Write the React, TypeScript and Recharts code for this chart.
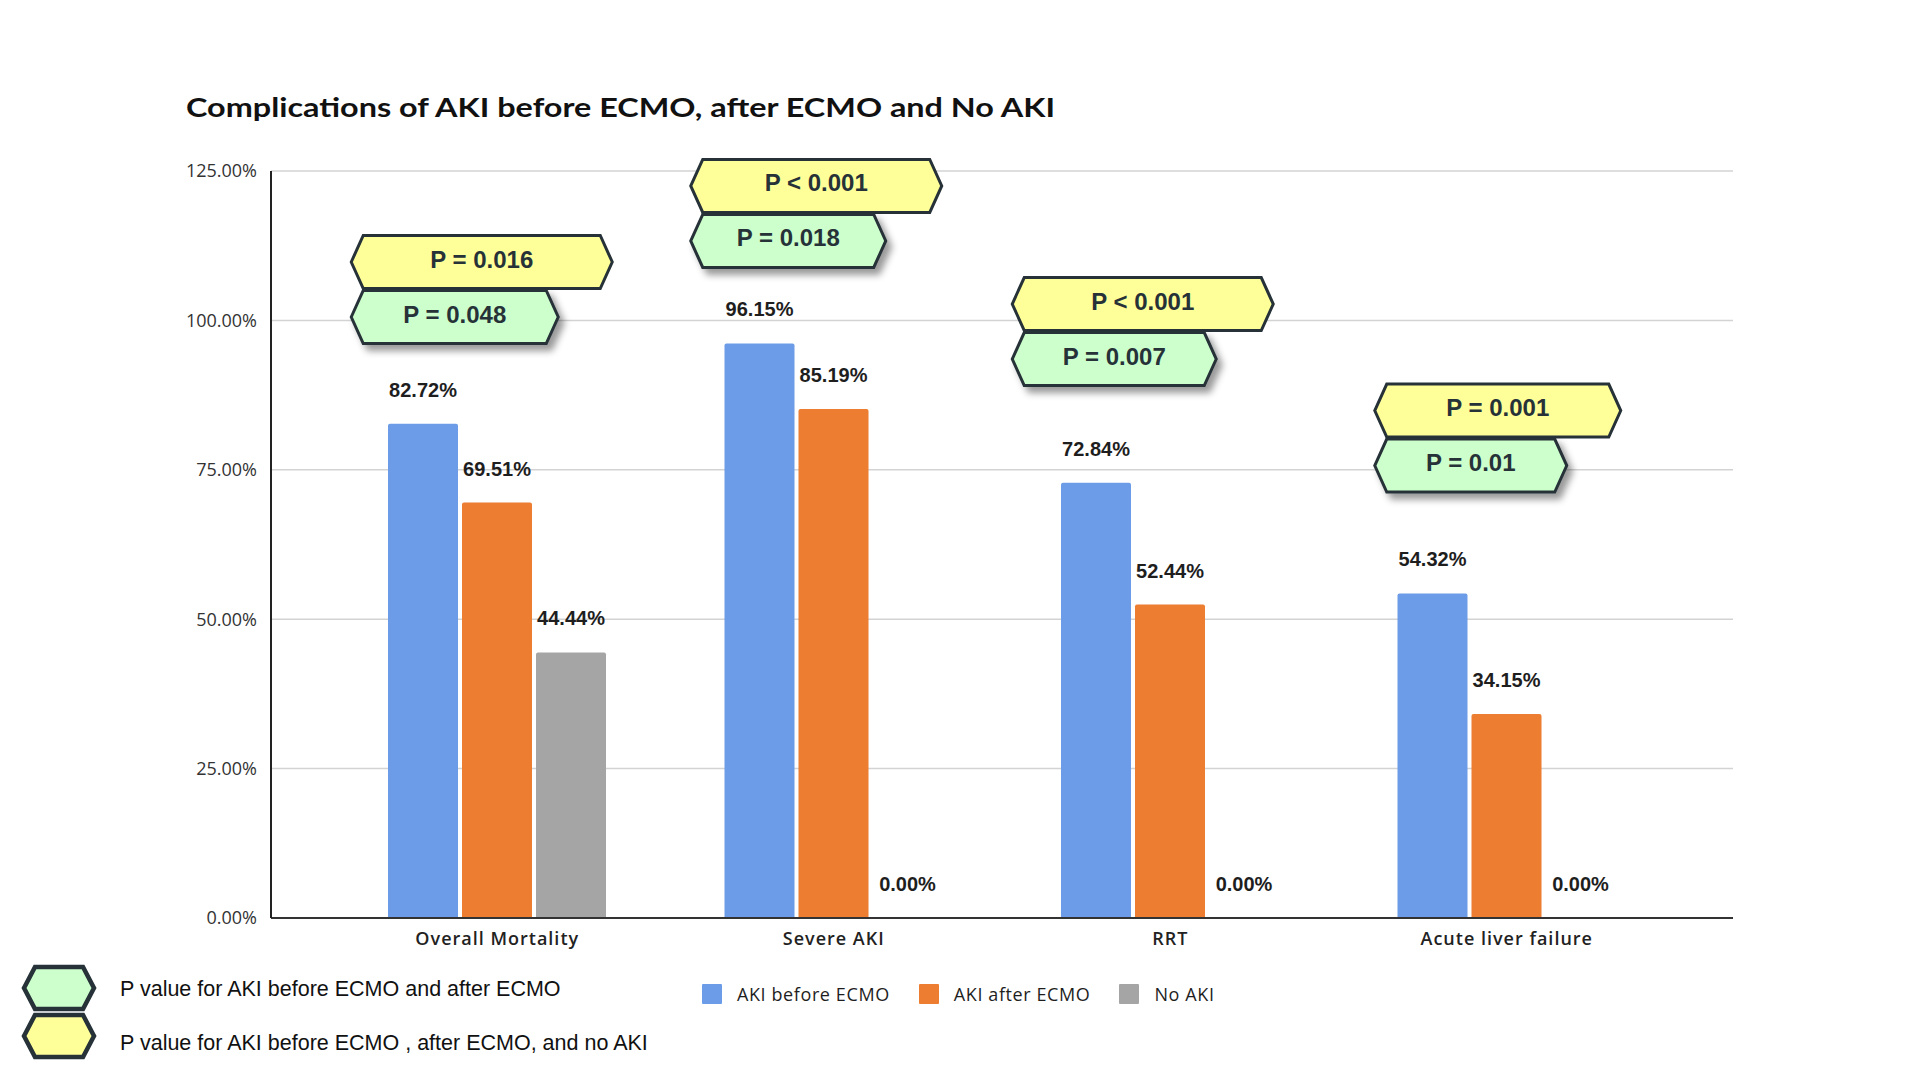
import React from 'react';
import { BarChart, Bar, XAxis, YAxis, CartesianGrid, LabelList, ReferenceDot } from 'recharts';

// ---- data ----
const categories = ['Overall Mortality', 'Severe AKI', 'RRT', 'Acute liver failure'];
const akiBeforeEcmo = [82.72, 96.15, 72.84, 54.32];
const akiAfterEcmo = [69.51, 85.19, 52.44, 34.15];
const noAki = [44.44, 0, 0, 0];
const yTicks = [0, 25, 50, 75, 100, 125];

const seriesKeys = ['before', 'after', 'none'];
const seriesNames = ['AKI before ECMO', 'AKI after ECMO', 'No AKI'];

// p-values per complication
const pThreeGroups = ['P = 0.016', 'P < 0.001', 'P < 0.001', 'P = 0.001'];
const pBeforeAfter = ['P = 0.048', 'P = 0.018', 'P = 0.007', 'P = 0.01'];

const pLegendTexts = [
  'P value for AKI before ECMO and after ECMO',
  'P value for AKI before ECMO , after ECMO, and no AKI',
];

const titleText = 'Complications of AKI before ECMO, after ECMO and No AKI';

// ---- styles / layout ----
const seriesColors = ['#6c9ce8', '#ec7d31', '#a5a5a5'];
const YELLOW = '#ffff99';
const GREEN = '#ccffcc';
const OUTLINE = '#263238';

// p-value badge geometry: y value where the two badges meet, left offset from the
// category centre, and badge widths
const badgeLevel = [105.17, 117.89, 98.14, 80.32];
const badgeLeft = [-146, -143, -158, -132];
const yellowWidth = [261, 251, 261, 246];
const greenWidth = [207, 195, 204, 192];
const BADGE_H = 53;
const BADGE_INSET = 12;

const chartData = categories.map((name, i) => ({
  name,
  before: akiBeforeEcmo[i],
  after: akiAfterEcmo[i],
  none: noAki[i],
}));

const hexPoints = (x: number, y: number, w: number, h: number, inset: number) =>
  `${x},${y + h / 2} ${x + inset},${y} ${x + w - inset},${y} ${x + w},${y + h / 2} ${x + w - inset},${y + h} ${x + inset},${y + h}`;

const badgeFont = "'Liberation Sans', Arial, sans-serif";

const PBadge = ({ cx, cy, i }: { cx: number; cy: number; i: number }) => {
  const x = cx + badgeLeft[i];
  const yTop = cy - 1 - BADGE_H;
  const gTop = cy + 1;
  return (
    <g>
      <polygon
        points={hexPoints(x, yTop, yellowWidth[i], BADGE_H, BADGE_INSET)}
        fill={YELLOW}
        stroke={OUTLINE}
        strokeWidth={3}
      />
      <text
        x={x + yellowWidth[i] / 2}
        y={yTop + BADGE_H / 2 + 5.5}
        textAnchor="middle"
        fontFamily={badgeFont}
        fontWeight={700}
        fontSize={24}
        fill={OUTLINE}
      >
        {pThreeGroups[i]}
      </text>
      <polygon
        points={hexPoints(x, gTop, greenWidth[i], BADGE_H, BADGE_INSET)}
        fill={GREEN}
        stroke={OUTLINE}
        strokeWidth={3}
        filter="url(#badgeShadow)"
      />
      <text
        x={x + greenWidth[i] / 2}
        y={gTop + BADGE_H / 2 + 5.5}
        textAnchor="middle"
        fontFamily={badgeFont}
        fontWeight={700}
        fontSize={24}
        fill={OUTLINE}
      >
        {pBeforeAfter[i]}
      </text>
    </g>
  );
};

const renderValueLabel = (props: any) => {
  const { x, y, width, value } = props;
  return (
    <text
      x={Number(x) + Number(width) / 2}
      y={Number(y) - 27}
      textAnchor="middle"
      fontFamily={badgeFont}
      fontWeight={700}
      fontSize={20}
      fill="#1e1e1e"
    >
      {`${Number(value).toFixed(2)}%`}
    </text>
  );
};

const CategoryTick = (props: any) => {
  const { x, y, payload } = props;
  return (
    <text
      x={x}
      y={y + 27}
      textAnchor="middle"
      fontFamily="'Open Sans', sans-serif"
      fontWeight={600}
      fontSize={18}
      letterSpacing={1}
      fill="#222"
    >
      {payload.value}
    </text>
  );
};

export default function App() {
  return (
    <div style={{ position: 'absolute', left: 0, top: 0, width: 1920, height: 1080, background: '#ffffff' }}>
      <svg width={0} height={0} style={{ position: 'absolute' }}>
        <defs>
          <filter id="badgeShadow" x="-20%" y="-30%" width="150%" height="180%">
            <feDropShadow dx={5} dy={6} stdDeviation={3.5} floodColor="#000" floodOpacity={0.4} />
          </filter>
        </defs>
      </svg>

      <div style={{ position: 'absolute', left: 0, top: 0 }}>
        <BarChart
          width={1920}
          height={1080}
          data={chartData}
          margin={{ top: 171, right: 187, bottom: 122, left: 191 }}
          barGap={4}
        >
          <CartesianGrid vertical={false} stroke="#d3d3d3" strokeWidth={1.5} />
          <XAxis
            dataKey="name"
            height={40}
            padding={{ left: 58, right: 58 }}
            axisLine={{ stroke: '#333', strokeWidth: 2 }}
            tickLine={false}
            tickSize={0}
            tickMargin={0}
            tick={<CategoryTick />}
            interval={0}
          />
          <YAxis
            width={80}
            domain={[0, 125]}
            ticks={yTicks}
            tickFormatter={(v: number) => `${v.toFixed(2)}%`}
            axisLine={{ stroke: '#222', strokeWidth: 2 }}
            tickLine={false}
            tickSize={0}
            tickMargin={14}
            tick={{ fontFamily: "'Open Sans', sans-serif", fontSize: 18, fill: '#333' }}
          />
          {seriesKeys.map((key, s) => (
            <Bar
              key={key}
              dataKey={key}
              name={seriesNames[s]}
              fill={seriesColors[s]}
              barSize={70}
              minPointSize={0.01}
              radius={[2, 2, 0, 0]}
              isAnimationActive={false}
            >
              <LabelList dataKey={key} content={renderValueLabel} />
            </Bar>
          ))}
          {categories.map((c, i) => (
            <ReferenceDot
              key={c}
              x={c}
              y={badgeLevel[i]}
              r={0}
              ifOverflow="visible"
              shape={(p: any) => <PBadge cx={p.cx} cy={p.cy} i={i} />}
            />
          ))}
        </BarChart>
      </div>

      <svg
        width={1920}
        height={1080}
        style={{ position: 'absolute', left: 0, top: 0, pointerEvents: 'none' }}
      >
        <text
          x={186}
          y={117}
          fontFamily="Lato, 'Open Sans', sans-serif"
          fontWeight={700}
          fontSize={27}
          textLength={869}
          lengthAdjust="spacingAndGlyphs"
          fill="#111"
        >
          {titleText}
        </text>

        {[GREEN, YELLOW].map((fill, k) => (
          <g key={fill}>
            <polygon
              points={hexPoints(24, 967 + k * 48, 70, 42, 11)}
              fill={fill}
              stroke={OUTLINE}
              strokeWidth={4.5}
            />
            <text
              x={120}
              y={996 + k * 54}
              fontFamily={badgeFont}
              fontSize={21.5}
              fill="#111"
            >
              {pLegendTexts[k]}
            </text>
          </g>
        ))}
      </svg>

      <div
        style={{
          position: 'absolute',
          left: 702,
          top: 984,
          display: 'flex',
          alignItems: 'center',
          gap: 29,
          fontFamily: "'Open Sans', sans-serif",
          fontSize: 18,
          letterSpacing: 0.6,
          color: '#1e1e1e',
          lineHeight: '20px',
        }}
      >
        {seriesNames.map((n, s) => (
          <div key={n} style={{ display: 'flex', alignItems: 'center' }}>
            <div style={{ width: 20, height: 20, background: seriesColors[s], marginRight: 15, borderRadius: 1 }} />
            <span>{n}</span>
          </div>
        ))}
      </div>
    </div>
  );
}
